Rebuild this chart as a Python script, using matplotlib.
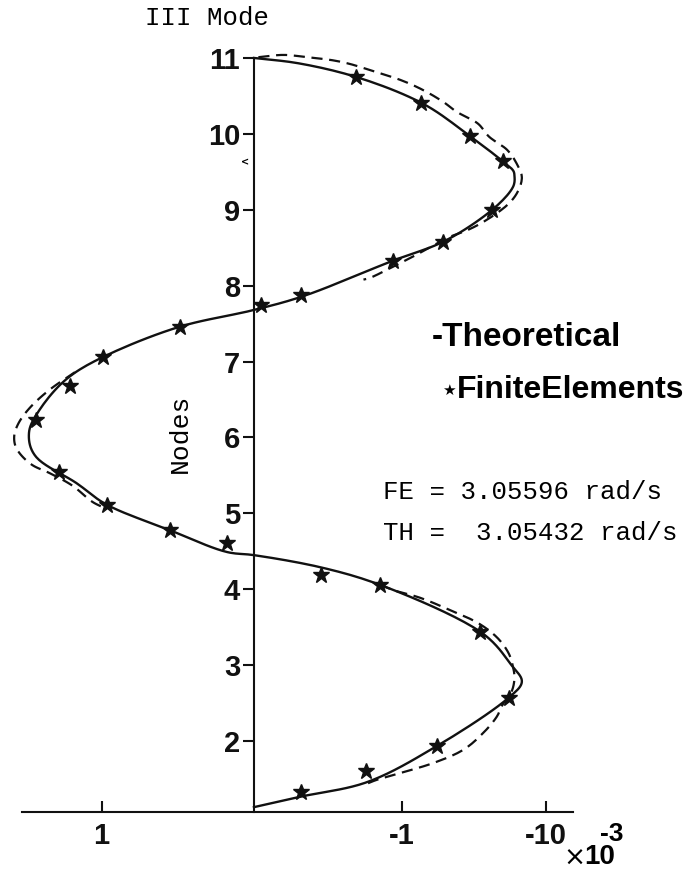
import numpy as np
import matplotlib.pyplot as plt

# mode shape amplitude (x1e-3, positive to the left) against node number
th_amp = [0.0, -0.30, -0.69, -1.13, -1.46, -1.68, -1.75, -1.76, -1.75, -1.61, -1.28, -0.94,
          -0.33, 0.0, 0.50, 1.02, 1.26, 1.45, 1.52, 1.47, 1.20, 0.99, 0.57, 0.18, 0.0,
          -0.45, -0.85, -1.53, -1.74, -1.81, -1.72, -1.24, -0.75, -0.32, 0.0]
th_node = [11.0, 10.93, 10.75, 10.41, 9.97, 9.64, 9.52, 9.45, 9.30, 9.00, 8.58, 8.33,
           7.86, 7.68, 7.46, 7.06, 6.78, 6.36, 6.06, 5.74, 5.40, 5.11, 4.78, 4.49, 4.45,
           4.29, 4.06, 3.44, 3.00, 2.78, 2.57, 1.94, 1.45, 1.27, 1.13]

fe_amp = [-0.69, -1.13, -1.46, -1.68, -1.61, -1.28, -0.94, -0.32, -0.05, 0.50, 1.02,
          1.24, 1.47, 1.32, 0.99, 0.57, 0.18, -0.45, -0.85, -1.53, -1.72, -1.24, -0.76, -0.32]
fe_node = [10.75, 10.41, 9.97, 9.64, 9.00, 8.58, 8.33, 7.88, 7.75, 7.46, 7.06,
           6.68, 6.23, 5.55, 5.11, 4.78, 4.61, 4.19, 4.06, 3.44, 2.57, 1.94, 1.61, 1.33]

# second curve, only where it leaves the theoretical one
dash_top_amp = [-0.03, -0.20, -0.36, -0.53, -0.65, -0.80, -0.99, -1.14, -1.28, -1.37, -1.51,
                -1.59, -1.71, -1.78, -1.81, -1.78, -1.71, -1.55, -1.44, -1.32, -1.12, -0.94,
                -0.78, -0.74]
dash_top_node = [11.01, 11.04, 11.01, 10.97, 10.92, 10.83, 10.71, 10.58, 10.42, 10.29, 10.14,
                 9.96, 9.79, 9.59, 9.43, 9.23, 9.06, 8.84, 8.73, 8.64, 8.43, 8.25, 8.10, 8.08]
dash_mid_amp = [1.21, 1.38, 1.51, 1.59, 1.62, 1.60, 1.50, 1.38, 1.23, 1.09, 1.02]
dash_mid_node = [6.86, 6.63, 6.40, 6.19, 6.01, 5.84, 5.64, 5.53, 5.37, 5.15, 5.08]
dash_bot_amp = [-0.85, -0.94, -1.12, -1.32, -1.51, -1.64, -1.72, -1.75, -1.76, -1.74, -1.68,
                -1.64, -1.55, -1.41, -1.21, -0.99, -0.83, -0.74]
dash_bot_node = [4.06, 3.99, 3.89, 3.73, 3.56, 3.37, 3.16, 2.98, 2.83, 2.65, 2.48,
                 2.32, 2.11, 1.88, 1.71, 1.58, 1.49, 1.42]

node_ticks = [2, 3, 4, 5, 6, 7, 8, 9, 10, 11]
amp_ticks = [1.03, -1.0, -1.97]
amp_labels = ['1', '-1', '-10']


def smooth(xs, ys, k=10):
    # centripetal Catmull-Rom through the given points, for a round pen line
    p = np.column_stack([xs, ys]).astype(float)
    p = np.vstack([2 * p[0] - p[1], p, 2 * p[-1] - p[-2]])
    out = []
    for i in range(1, len(p) - 2):
        p0, p1, p2, p3 = p[i - 1], p[i], p[i + 1], p[i + 2]
        t0 = 0.0
        t1 = t0 + np.linalg.norm(p1 - p0) ** 0.5 + 1e-9
        t2 = t1 + np.linalg.norm(p2 - p1) ** 0.5 + 1e-9
        t3 = t2 + np.linalg.norm(p3 - p2) ** 0.5 + 1e-9
        t = np.linspace(t1, t2, k, endpoint=False)[:, None]
        a1 = (t1 - t) / (t1 - t0) * p0 + (t - t0) / (t1 - t0) * p1
        a2 = (t2 - t) / (t2 - t1) * p1 + (t - t1) / (t2 - t1) * p2
        a3 = (t3 - t) / (t3 - t2) * p2 + (t - t2) / (t3 - t2) * p3
        b1 = (t2 - t) / (t2 - t0) * a1 + (t - t0) / (t2 - t0) * a2
        b2 = (t3 - t) / (t3 - t1) * a2 + (t - t1) / (t3 - t1) * a3
        out.append((t2 - t) / (t2 - t1) * b1 + (t - t1) / (t2 - t1) * b2)
    out.append(p[-2][None, :])
    c = np.vstack(out)
    return c[:, 0], c[:, 1]


W, H = 688, 875
fig = plt.figure(figsize=(W / 100, H / 100), dpi=100)
ax = fig.add_axes([5 / W, (H - 812) / H, 595 / W, (812 - 20) / H])
ax.set_xlim(1.682, -2.338)
ax.set_ylim(1.066, 11.5)

blk = '#111111'
for a, n in [(dash_top_amp, dash_top_node), (dash_mid_amp, dash_mid_node),
             (dash_bot_amp, dash_bot_node)]:
    ax.plot(*smooth(a, n), color=blk, lw=1.6, ls=(0, (5, 3)))
ax.plot(*smooth(th_amp, th_node), color=blk, lw=1.7)
ax.plot(fe_amp, fe_node, ls='none', marker='*', ms=12, color=blk)

for s in ['top', 'right']:
    ax.spines[s].set_visible(False)
ax.spines['left'].set_position(('data', 0))
ax.spines['left'].set_bounds(1.066, 11.0)
ax.spines['bottom'].set_bounds(1.57, -2.155)
for s in ['left', 'bottom']:
    ax.spines[s].set_linewidth(1.5)
    ax.spines[s].set_color(blk)

ax.set_yticks(node_ticks)
ax.set_yticklabels([str(v) for v in node_ticks])
ax.set_xticks(amp_ticks)
ax.set_xticklabels(amp_labels)
ax.tick_params(axis='y', direction='out', length=8, width=1.5, pad=2, colors=blk)
ax.tick_params(axis='x', direction='in', length=8, width=1.5, pad=7, colors=blk)
for lab in ax.get_xticklabels() + ax.get_yticklabels():
    lab.set_fontfamily('Liberation Sans')
    lab.set_fontweight('bold')
    lab.set_fontsize(21)

ax.text(0.06, 9.63, '<', fontsize=7, fontweight='bold', ha='center', va='center')


def fx(px):
    return px / W


def fy(py):
    return 1 - py / H


mono = 'Liberation Mono'
fig.text(fx(145), fy(18), 'III Mode', family=mono, fontsize=18.5, va='center')
fig.text(fx(180), fy(433), 'Nodes', family=mono, fontsize=19, rotation=90,
         ha='center', va='center')
fig.text(fx(432), fy(338), '-Theoretical', family='Liberation Sans', fontweight='bold',
         fontsize=24, va='center')
fig.text(fx(449), fy(390), '★', family='DejaVu Sans', fontsize=11, ha='center', va='center')
fig.text(fx(457), fy(390), 'FiniteElements', family='Liberation Sans', fontweight='bold',
         fontsize=23, va='center')
fig.text(fx(383), fy(492), 'FE = 3.05596 rad/s', family=mono, fontsize=18.5, va='center')
fig.text(fx(383), fy(533), 'TH =  3.05432 rad/s', family=mono, fontsize=18.5, va='center')
fig.text(fx(612), fy(834), '-3', family='Liberation Sans', fontweight='bold',
         fontsize=19, ha='center', va='center')
fig.text(fx(563), fy(859), '×', family='DejaVu Sans', fontsize=19, va='center')
fig.text(fx(584), fy(857), '10', family='Liberation Sans', fontweight='bold',
         fontsize=20, va='center')

fig.savefig('out.png', dpi=100, facecolor='white')
